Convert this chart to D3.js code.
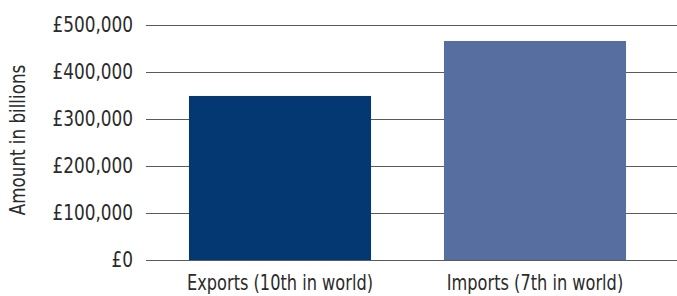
<!DOCTYPE html>
<html>
<head>
<meta charset="utf-8">
<script src="https://d3js.org/d3.v7.min.js"></script>
<style>
  body { margin:0; background:#fff; }
  text { font-family: "Liberation Sans Narrow", "DejaVu Sans Condensed", sans-serif; fill:#2b2b2b; font-size:21px; }
</style>
</head>
<body>
<svg id="chart"></svg>
<script>
    // chart data
    var categories = ["Exports (10th in world)", "Imports (7th in world)"];
    var amounts = [349000, 466000];
    var barColors = ["#043873", "#576fa0"];
    var yTicks = [0, 100000, 200000, 300000, 400000, 500000];

    var screen = {width:677, height:296};
    var plot = {left:146, right:677, top:25, bottom:260};

    var svg = d3.select("#chart")
        .attr("width", screen.width)
        .attr("height", screen.height);

    var y = d3.scaleLinear()
        .domain([0, 500000])
        .range([plot.bottom, plot.top]);

    var x = d3.scaleBand()
        .domain(categories)
        .range([152.5, 662.5])
        .paddingInner(0.286)
        .paddingOuter(0.143);

    var fmt = function(d){ return "£" + d3.format(",")(d); };

    // gridlines
    svg.append("g")
        .selectAll("line")
        .data(yTicks)
        .enter()
        .append("line")
        .attr("x1", plot.left)
        .attr("x2", plot.right)
        .attr("y1", function(d){ return Math.round(y(d)) + 0.5; })
        .attr("y2", function(d){ return Math.round(y(d)) + 0.5; })
        .attr("stroke", "#5a5a5a")
        .attr("stroke-width", 1);

    // tick labels (squeezed to look like a condensed face)
    svg.append("g")
        .selectAll("text")
        .data(yTicks)
        .enter()
        .append("text")
        .attr("transform", function(d){ return "translate(133," + y(d) + ") scale(0.895,1)"; })
        .attr("dy", "0.35em")
        .attr("text-anchor", "end")
        .text(fmt);

    // bars
    svg.append("g")
        .selectAll("rect")
        .data(amounts)
        .enter()
        .append("rect")
        .attr("x", function(d,i){ return x(categories[i]); })
        .attr("width", x.bandwidth())
        .attr("y", function(d){ return y(d); })
        .attr("height", function(d){ return y(0) - y(d); })
        .attr("fill", function(d,i){ return barColors[i]; });

    // category labels
    svg.append("g")
        .selectAll("text")
        .data(categories)
        .enter()
        .append("text")
        .attr("transform", function(d){ return "translate(" + (x(d) + x.bandwidth()/2) + ",290) scale(0.857,1)"; })
        .attr("text-anchor", "middle")
        .text(function(d){ return d; });

    // y axis title
    svg.append("text")
        .attr("transform", "translate(25,140) rotate(-90) scale(0.886,1)")
        .attr("text-anchor", "middle")
        .text("Amount in billions");
</script>
</body>
</html>
